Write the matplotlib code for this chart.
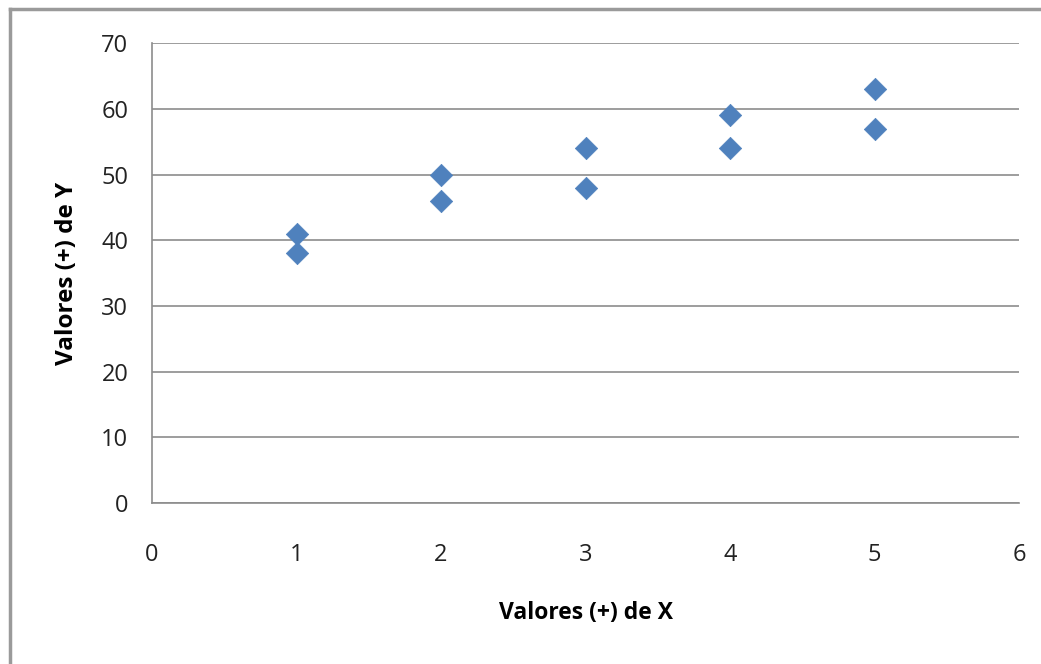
import matplotlib
matplotlib.use("Agg")
import matplotlib.pyplot as plt
from matplotlib.lines import Line2D

# data
x_vals = [1, 1, 2, 2, 3, 3, 4, 4, 5, 5]
y_vals = [41, 38, 50, 46, 54, 48, 59, 54, 63, 57]
x_ticks = [0, 1, 2, 3, 4, 5, 6]
y_ticks = [0, 10, 20, 30, 40, 50, 60, 70]

plt.rcParams["font.family"] = ["Open Sans", "DejaVu Sans"]

fig = plt.figure(figsize=(10.41, 6.64), dpi=100)
ax = fig.add_axes([0.146, 0.2425, 0.833, 0.6925])

ax.scatter(x_vals, y_vals, marker="D", s=130, color="#4F81BD",
           edgecolors="#4F81BD", linewidths=0.5, zorder=3)

ax.set_xlim(0, 6)
ax.set_ylim(0, 70)
ax.set_xticks(x_ticks)
ax.set_yticks(y_ticks)
ax.tick_params(axis="both", length=0, labelsize=17, colors="#222222")
ax.tick_params(axis="x", pad=29)
ax.tick_params(axis="y", pad=17)

ax.grid(True, axis="y", color="#8C8C8C", linewidth=1.2)
ax.set_axisbelow(True)
for side in ("top", "right"):
    ax.spines[side].set_visible(False)
for side in ("left", "bottom"):
    ax.spines[side].set_color("#8C8C8C")
    ax.spines[side].set_linewidth(1.2)

ax.set_xlabel("Valores (+) de X", fontsize=16.5, fontweight="bold", labelpad=24)
ax.set_ylabel("Valores (+) de Y", fontsize=17.5, fontweight="bold", labelpad=16)

# chart frame (only top and left edges visible in the reference)
fig.add_artist(Line2D([10 / 1041, 1.0], [1 - 9 / 664, 1 - 9 / 664],
                      transform=fig.transFigure, color="#9A9A9A", linewidth=2.5))
fig.add_artist(Line2D([10 / 1041, 10 / 1041], [0.0, 1 - 9 / 664],
                      transform=fig.transFigure, color="#9A9A9A", linewidth=2.5))

fig.savefig("out.png", dpi=100)
plt.close(fig)
